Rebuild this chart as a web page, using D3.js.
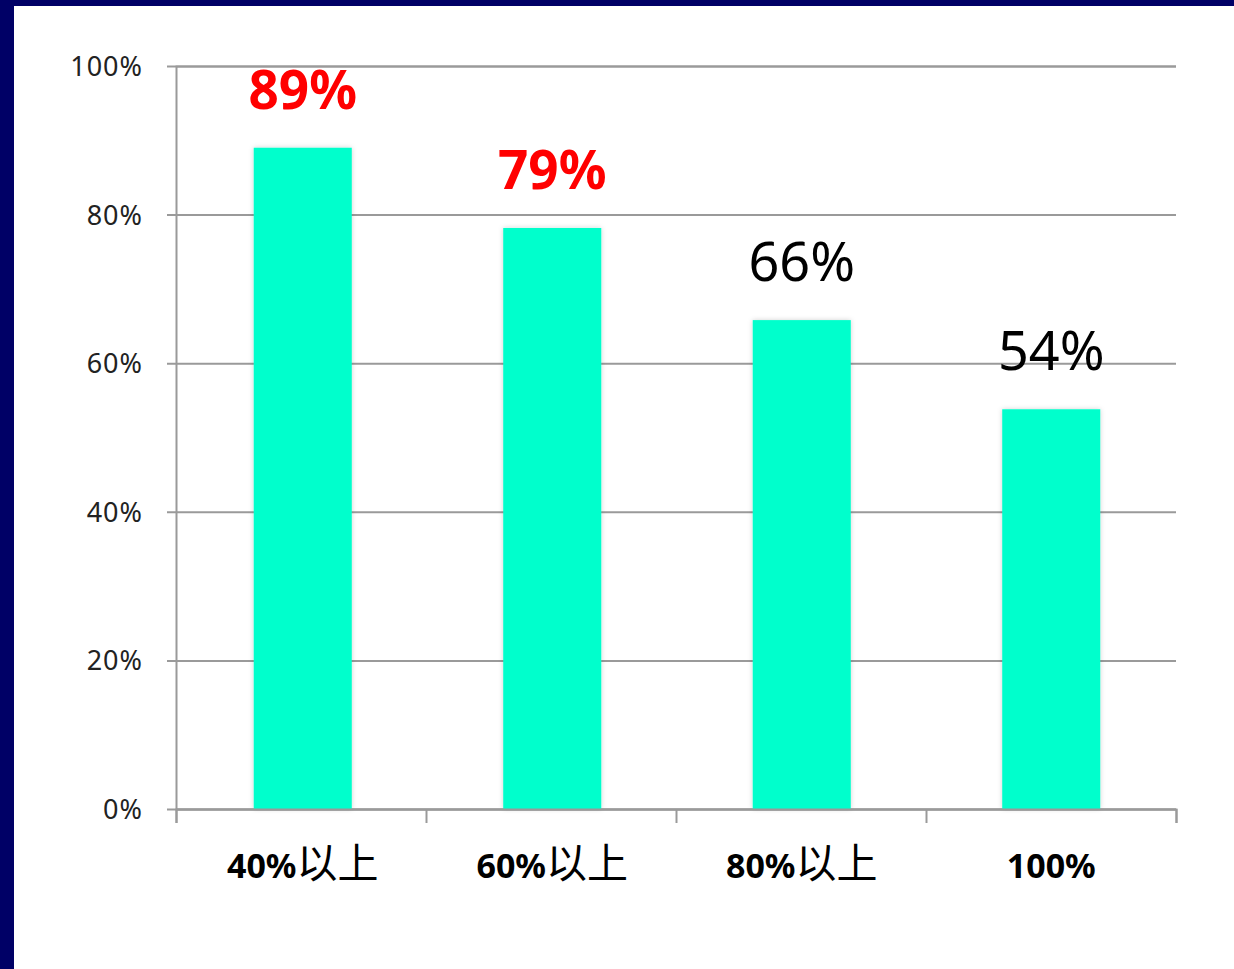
<!DOCTYPE html>
<html>
<head>
<meta charset="utf-8">
<script src="https://cdn.jsdelivr.net/npm/d3@7"></script>
<style>
    html, body { margin: 0; padding: 0; background: #000066; }
    svg { display: block; }
</style>
</head>
<body>
<svg id="chart" width="1234" height="969"></svg>
<script>
const categories = ["40%", "60%", "80%", "100%"];
const categorySuffix = ["以上", "以上", "以上", ""];
const values = [0.89, 0.782, 0.658, 0.538];
const valueLabels = ["89%", "79%", "66%", "54%"];
const highlighted = [true, true, false, false];
const yTicks = [0, 0.2, 0.4, 0.6, 0.8, 1.0];

const svg = d3.select("#chart");
const W = 1234, H = 969;

// white page inside the navy frame
svg.append("rect")
    .attr("x", 14).attr("y", 6)
    .attr("width", W - 14).attr("height", H - 6)
    .attr("fill", "#ffffff");

const plotLeft = 176, plotRight = 1176, plotTop = 66, plotBottom = 809;

let x = d3.scaleBand()
    .domain(categories)
    .range([plotLeft + 2, plotRight])
    .paddingInner(0.607)
    .paddingOuter(0.3035);

let y = d3.scaleLinear()
    .domain([0, 1])
    .range([plotBottom, plotTop]);

let defs = svg.append("defs");
let f = defs.append("filter").attr("id", "shadow")
    .attr("x", "-20%").attr("y", "-5%").attr("width", "140%").attr("height", "110%");
f.append("feGaussianBlur").attr("in", "SourceAlpha").attr("stdDeviation", 2.5).attr("result", "b");
f.append("feFlood").attr("flood-color", "#000").attr("flood-opacity", 0.18).attr("result", "c");
f.append("feComposite").attr("in", "c").attr("in2", "b").attr("operator", "in").attr("result", "s");
let m = f.append("feMerge");
m.append("feMergeNode").attr("in", "s");
m.append("feMergeNode").attr("in", "SourceGraphic");

// gridlines + y axis
let yAxis = d3.axisLeft(y)
    .tickValues(yTicks)
    .tickFormat(d3.format(".0%"))
    .tickSize(-(plotRight - plotLeft))
    .tickPadding(33);

let gy = svg.append("g")
    .attr("transform", "translate(" + plotLeft + ",0)")
    .call(yAxis);
gy.select(".domain").attr("stroke", "#9a9a9a").attr("stroke-width", 2);
gy.selectAll(".tick line")
    .attr("x1", -9)
    .attr("stroke", "#9a9a9a").attr("stroke-width", 2);
gy.selectAll(".tick text")
    .attr("fill", "#222")
    .style("font-family", "'Noto Sans', sans-serif")
    .style("font-size", "27px")
    .style("letter-spacing", "1px")
    .attr("dy", "0.35em");

// bars
svg.append("g")
    .selectAll("rect")
    .data(values)
    .join("rect")
    .attr("x", (d, i) => x(categories[i]))
    .attr("y", d => y(d))
    .attr("width", x.bandwidth())
    .attr("height", d => y(0) - y(d))
    .attr("fill", "#00ffcc")
    .attr("filter", "url(#shadow)");

// x axis
let xAxis = d3.axisBottom(d3.scaleLinear().domain([0, categories.length]).range([plotLeft, plotRight]))
    .ticks(categories.length)
    .tickFormat("")
    .tickSize(14)
    .tickSizeOuter(14);
let gx = svg.append("g")
    .attr("transform", "translate(0," + plotBottom + ")")
    .call(xAxis);
gx.select(".domain").attr("stroke", "#9a9a9a").attr("stroke-width", 2);
gx.selectAll(".tick line").attr("stroke", "#9a9a9a").attr("stroke-width", 2);

// category labels
let cl = svg.append("g")
    .selectAll("text")
    .data(categories)
    .join("text")
    .attr("x", d => x(d) + x.bandwidth() / 2)
    .attr("y", 878)
    .attr("text-anchor", "middle")
    .attr("fill", "#000")
    .style("font-family", "'Noto Sans', 'Noto Sans CJK SC', sans-serif");
cl.append("tspan")
    .style("font-size", "34px")
    .style("font-weight", "bold")
    .text(d => d);
cl.append("tspan")
    .style("font-size", "41px")
    .style("font-family", "'Noto Sans CJK SC', sans-serif")
    .text((d, i) => categorySuffix[i]);

// value labels
svg.append("g")
    .selectAll("text")
    .data(values)
    .join("text")
    .attr("x", (d, i) => x(categories[i]) + x.bandwidth() / 2)
    .attr("y", d => y(d) - 39)
    .attr("text-anchor", "middle")
    .attr("fill", (d, i) => highlighted[i] ? "#ff0000" : "#000")
    .style("font-family", "'Noto Sans', sans-serif")
    .style("font-weight", (d, i) => highlighted[i] ? "bold" : "normal")
    .style("font-size", (d, i) => highlighted[i] ? "53px" : "54px")
    .text((d, i) => valueLabels[i]);
</script>
</body>
</html>
